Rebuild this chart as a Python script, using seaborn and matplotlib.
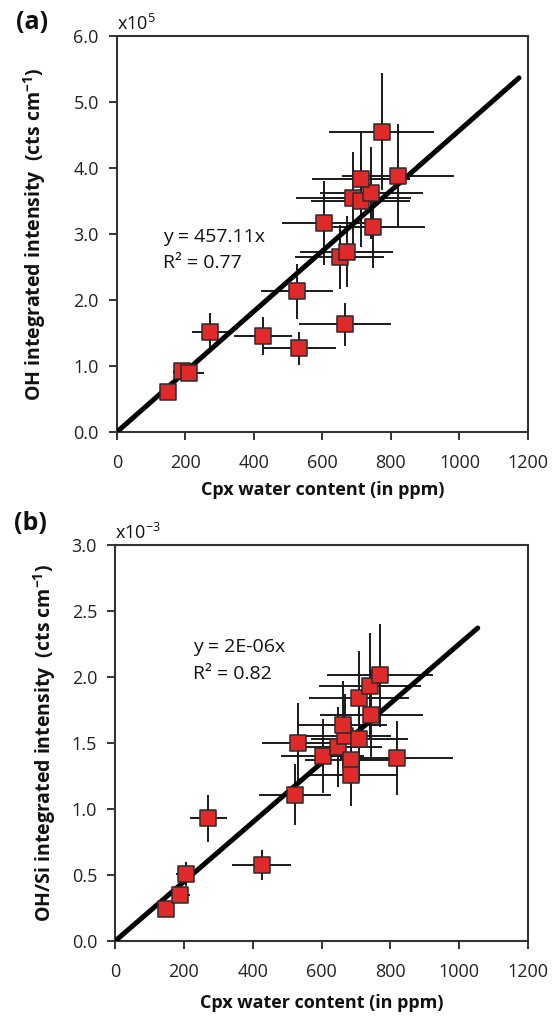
import numpy as np
import pandas as pd
import matplotlib
matplotlib.use("Agg")
import matplotlib.pyplot as plt
import seaborn as sns

# ---- data panel (a): OH integrated intensity (x1e5) ----
a_x = [149, 190, 210, 272, 427, 533, 525, 666, 651, 671, 605, 748, 690, 712, 743, 714, 821, 773]
a_y = [0.60, 0.92, 0.90, 1.51, 1.45, 1.27, 2.13, 1.63, 2.65, 2.73, 3.17, 3.10, 3.55, 3.50, 3.62, 3.83, 3.88, 4.55]
a_xerr = [25, 25, 45, 52, 85, 107, 105, 133, 130, 135, 122, 150, 168, 145, 150, 143, 163, 153]
a_yerr = [0.05, 0.12, 0.12, 0.29, 0.29, 0.25, 0.42, 0.32, 0.48, 0.54, 0.64, 0.62, 0.70, 0.70, 0.70, 0.72, 0.78, 0.89]
a_slope = 457.11 / 1e5
a_fit_x = [0, 1174]

# ---- data panel (b): OH/Si integrated intensity (x1e-3) ----
b_x = [147, 189, 206, 271, 426, 522, 531, 603, 647, 667, 661, 710, 686, 686, 818, 744, 708, 740, 769]
b_y = [0.24, 0.35, 0.505, 0.93, 0.576, 1.11, 1.50, 1.40, 1.47, 1.55, 1.64, 1.53, 1.37, 1.26, 1.39, 1.71, 1.84, 1.93, 2.015]
b_xerr = [15, 30, 30, 54, 85, 104, 105, 120, 130, 135, 130, 140, 135, 135, 165, 150, 145, 148, 154]
b_yerr = [0.03, 0.05, 0.09, 0.18, 0.11, 0.23, 0.30, 0.28, 0.30, 0.32, 0.33, 0.32, 0.30, 0.24, 0.28, 0.34, 0.36, 0.40, 0.39]
b_slope = 2.25e-3
b_fit_x = [0, 1054]

x_ticks = [0, 200, 400, 600, 800, 1000, 1200]
a_yticks = [0.0, 1.0, 2.0, 3.0, 4.0, 5.0, 6.0]
b_yticks = [0.0, 0.5, 1.0, 1.5, 2.0, 2.5, 3.0]

sns.set_style("white")
plt.rcParams['font.family'] = ['Open Sans', 'DejaVu Sans']
plt.rcParams['mathtext.fontset'] = 'custom'
plt.rcParams['mathtext.rm'] = 'Open Sans'
plt.rcParams['mathtext.it'] = 'Open Sans'
plt.rcParams['mathtext.bf'] = 'Open Sans:bold'
plt.rcParams['text.color'] = '#111111'
plt.rcParams['axes.labelcolor'] = '#111111'
plt.rcParams['xtick.color'] = '#222222'
plt.rcParams['ytick.color'] = '#222222'

fig = plt.figure(figsize=(5.59, 10.17), dpi=100)
ax_a = fig.add_axes([0.209, 0.5752, 0.7355, 0.3894])
ax_b = fig.add_axes([0.206, 0.0747, 0.7385, 0.3894])

RED = '#E02A2A'
EDGE = '#2b2b2b'


def draw(ax, xs, ys, xe, ye, slope, fitx, yticks, ylabel, mult, eq, r2, eqpos, panel,
         panel_y, xlabelpad, ylabelpad):
    df = pd.DataFrame({'x': xs, 'y': ys})
    ax.errorbar(xs, ys, xerr=xe, yerr=ye, fmt='none', ecolor='#1a1a1a',
                elinewidth=1.4, capsize=0, zorder=2)
    fx = np.array(fitx, dtype=float)
    fit = pd.DataFrame({'x': fx, 'y': slope * fx})
    sns.lineplot(data=fit, x='x', y='y', ax=ax, color='black', linewidth=3.6, zorder=3)
    sns.scatterplot(data=df, x='x', y='y', ax=ax, marker='s', s=140, color=RED,
                    edgecolor=EDGE, linewidth=1.1, zorder=4)
    ax.set_xlim(0, 1200)
    ax.set_ylim(yticks[0], yticks[-1])
    ax.set_xticks(x_ticks)
    ax.set_yticks(yticks)
    ax.set_yticklabels([f"{t:.1f}" for t in yticks])
    ax.tick_params(direction='out', length=6, width=1.4, color='#333333',
                   labelsize=13, left=True, bottom=True)
    ax.tick_params(axis='x', pad=10)
    ax.tick_params(axis='y', pad=7)
    for s in ax.spines.values():
        s.set_color('#333333')
        s.set_linewidth(1.5)
        s.set_visible(True)
    ax.set_xlabel('Cpx water content (in ppm)', fontsize=13, fontweight='bold',
                  labelpad=xlabelpad)
    ax.set_ylabel(ylabel, fontsize=14, fontweight='bold', labelpad=ylabelpad)
    ax.text(0.0, 1.004, mult, transform=ax.transAxes, fontsize=13, ha='left', va='bottom')
    ax.text(eqpos[0], eqpos[1], eq, fontsize=14, ha='left', va='center')
    ax.text(eqpos[0], eqpos[2], r2, fontsize=14, ha='left', va='center')
    ax.text(-0.245, panel_y, panel, transform=ax.transAxes, fontsize=18, fontweight='bold',
            ha='left', va='center')


draw(ax_a, a_x, a_y, a_xerr, a_yerr, a_slope, a_fit_x, a_yticks,
     'OH integrated intensity  (cts cm$^{\\mathbf{-1}}$)', 'x10$^{5}$',
     'y = 457.11x', 'R² = 0.77', (136, 2.96, 2.56), '(a)', 1.035, 6, 18)
draw(ax_b, b_x, b_y, b_xerr, b_yerr, b_slope, b_fit_x, b_yticks,
     'OH/Si integrated intensity  (cts cm$^{\\mathbf{-1}}$)', 'x10$^{-3}$',
     'y = 2E-06x', 'R² = 0.82', (226, 2.23, 2.02), '(b)', 1.055, 9, 10)

fig.savefig('out.png', dpi=100)
